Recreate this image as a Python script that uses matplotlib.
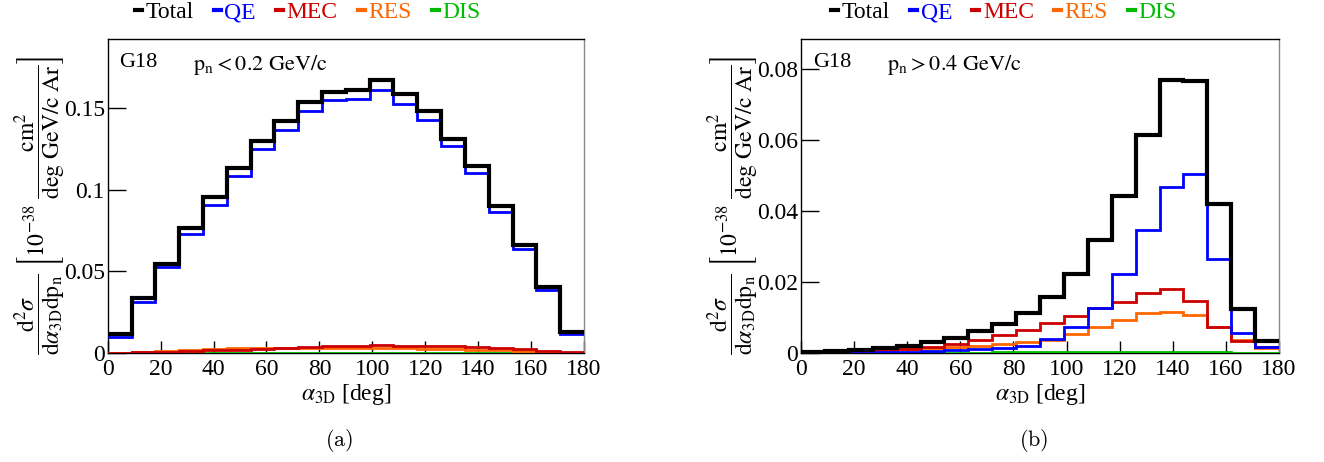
import numpy as np
import matplotlib
matplotlib.use("Agg")
import matplotlib.pyplot as plt
from matplotlib.lines import Line2D

# ---- data ----
edges = np.linspace(0, 180, 21)  # 20 bins of 9 deg

a_total = [0.0117, 0.0339, 0.0548, 0.0767, 0.0954, 0.1131, 0.1299, 0.1420, 0.1535, 0.1599,
           0.1613, 0.1670, 0.1589, 0.1484, 0.1313, 0.1145, 0.0903, 0.0662, 0.0403, 0.0127]
a_qe = [0.0101, 0.0313, 0.0524, 0.0726, 0.0909, 0.1085, 0.1251, 0.1363, 0.1483, 0.1548,
        0.1553, 0.1609, 0.1524, 0.1430, 0.1270, 0.1105, 0.0863, 0.0635, 0.0383, 0.0117]
a_mec = [0.0002, 0.0004, 0.0008, 0.0012, 0.0016, 0.0020, 0.0026, 0.0032, 0.0038, 0.0042,
         0.0045, 0.0046, 0.0045, 0.0043, 0.0040, 0.0036, 0.0030, 0.0023, 0.0014, 0.0005]
a_res = [0.0003, 0.0008, 0.0014, 0.0020, 0.0025, 0.0028, 0.0030, 0.0031, 0.0032, 0.0032,
         0.0031, 0.0030, 0.0029, 0.0027, 0.0024, 0.0021, 0.0017, 0.0012, 0.0007, 0.0002]
a_dis = [0.0001] * 20

b_total = [0.0003, 0.0006, 0.0009, 0.0013, 0.0020, 0.0031, 0.0043, 0.0061, 0.0083, 0.0113,
           0.0158, 0.0224, 0.0318, 0.0443, 0.0615, 0.0770, 0.0766, 0.0420, 0.0124, 0.0033]
b_qe = [0.0001, 0.0001, 0.0001, 0.0002, 0.0004, 0.0005, 0.0008, 0.0010, 0.0014, 0.0019,
        0.0040, 0.0072, 0.0128, 0.0222, 0.0347, 0.0469, 0.0504, 0.0266, 0.0055, 0.0017]
b_mec = [0.0001, 0.0003, 0.0005, 0.0008, 0.0011, 0.0017, 0.0024, 0.0036, 0.0050, 0.0064,
         0.0085, 0.0105, 0.0128, 0.0144, 0.0168, 0.0180, 0.0147, 0.0073, 0.0034, 0.0017]
b_res = [0.0000, 0.0001, 0.0003, 0.0006, 0.0010, 0.0015, 0.0017, 0.0020, 0.0026, 0.0031,
         0.0038, 0.0053, 0.0072, 0.0094, 0.0114, 0.0115, 0.0106, 0.0073, 0.0038, 0.0014]
b_dis = [0.0000, 0.0000, 0.0000, 0.0001, 0.0001, 0.0001, 0.0001, 0.0001, 0.0002, 0.0002,
         0.0002, 0.0002, 0.0002, 0.0002, 0.0002, 0.0002, 0.0002, 0.0002, 0.0001, 0.0001]

labels = ["Total", "QE", "MEC", "RES", "DIS"]
colors = ["#000000", "#0000ff", "#cc0000", "#ff6600", "#00bb00"]

panels = [
    dict(data=[a_total, a_qe, a_mec, a_res, a_dis], ymax=0.1923,
         yticks=[0, 0.05, 0.1, 0.15], yticklabels=["0", "0.05", "0.1", "0.15"],
         cut=r"$\mathrm{p_{n} < 0.2\ GeV/c}$", caption=r"$\mathrm{(a)}$",
         rect=[107.7, 584], legx=0.42),
    dict(data=[b_total, b_qe, b_mec, b_res, b_dis], ymax=0.0885,
         yticks=[0, 0.02, 0.04, 0.06, 0.08], yticklabels=["0", "0.02", "0.04", "0.06", "0.08"],
         cut=r"$\mathrm{p_{n} > 0.4\ GeV/c}$", caption=r"$\mathrm{(b)}$",
         rect=[801, 1279], legx=0.425),
]

W, H = 1324, 462
plt.rcParams["font.family"] = ["Liberation Serif", "DejaVu Serif"]
plt.rcParams["mathtext.fontset"] = "stix"

fig = plt.figure(figsize=(W / 100, H / 100), dpi=100)

ylab = (r"$\dfrac{\mathrm{d^{2}}\sigma}{\mathrm{d}\alpha_{\mathrm{3D}}\mathrm{dp_{n}}}"
        r"\ \left[10^{-38}\ \dfrac{\mathrm{cm^{2}}}{\mathrm{deg\ GeV/c\ Ar}}\right]$")

top_px, bot_px = 39, 353
for p in panels:
    x0, x1 = p["rect"]
    ax = fig.add_axes([x0 / W, 1 - bot_px / H, (x1 - x0) / W, (bot_px - top_px) / H])
    order = [4, 3, 2, 1, 0]
    for i in order:
        lw = 3.0 if i == 0 else 2.0
        ax.stairs(p["data"][i], edges, color=colors[i], lw=lw, baseline=None, zorder=3 + (5 - i) * 0.1 if i else 4)
    ax.set_xlim(0, 180)
    ax.set_ylim(0, p["ymax"])
    ax.set_xticks(np.arange(0, 181, 20))
    ax.set_yticks(p["yticks"])
    ax.set_yticklabels(p["yticklabels"])
    ax.tick_params(axis="both", direction="in", labelsize=17, width=1.0)
    ax.tick_params(axis="x", length=9, pad=4)
    ax.tick_params(axis="y", length=13, pad=2)
    ax.spines["right"].set_color("#888888")
    for s in ax.spines.values():
        s.set_linewidth(1.0)
    ax.set_xlabel(r"$\alpha_{\mathrm{3D}}$ [deg]", fontsize=17, labelpad=2)
    ax.set_ylabel(ylab, fontsize=17)
    ax.yaxis.set_label_coords(-0.085, 0.47)
    ax.text(0.025, 0.955, "G18", transform=ax.transAxes, fontsize=16, va="top", ha="left")
    ax.text(0.18, 0.955, p["cut"], transform=ax.transAxes, fontsize=16, va="top", ha="left")
    handles = [Line2D([], [], color=c, lw=3) for c in colors]
    leg = ax.legend(handles, labels, loc="lower center", bbox_to_anchor=(p["legx"], 1.02), ncol=5,
                    frameon=False, fontsize=17, handlelength=0.3, handletextpad=0.15,
                    columnspacing=0.85, borderaxespad=0.0)
    for t, c in zip(leg.get_texts(), colors):
        t.set_color(c)
    fig.text((x0 + x1) / 2 / W - 0.005, 1 - 440 / H, p["caption"], fontsize=16,
             ha="center", va="center", math_fontfamily="cm")

fig.savefig("out.png", dpi=100)
